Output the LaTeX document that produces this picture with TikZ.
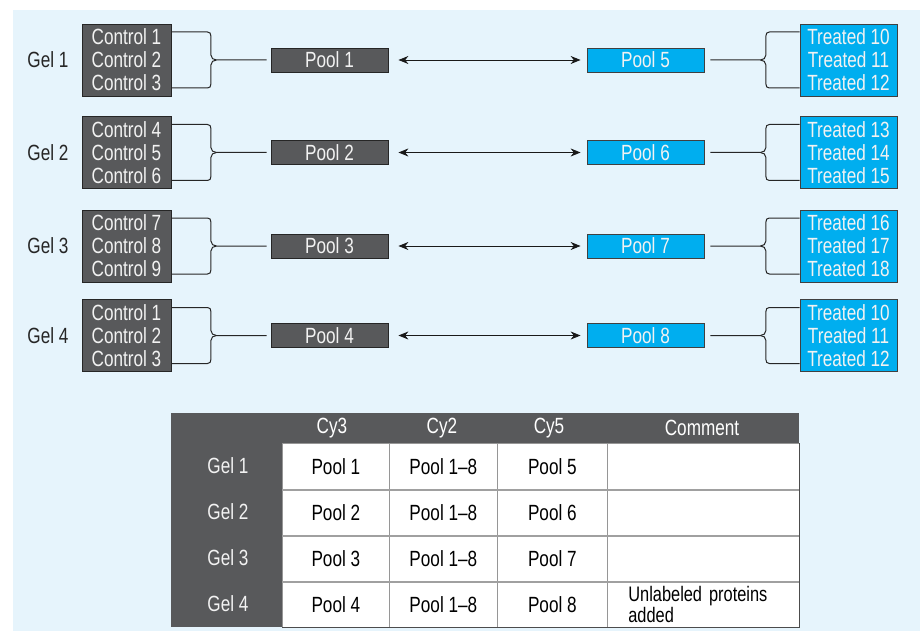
\documentclass[tikz,border=0pt]{standalone}
\usepackage{fontspec}
\setmainfont[FakeStretch=0.78]{Liberation Sans}
\usetikzlibrary{arrows.meta}
\definecolor{bgblue}{RGB}{230,244,252}
\definecolor{dgrey}{RGB}{88,89,91}
\definecolor{cyanbox}{RGB}{0,174,239}
\definecolor{lighttext}{RGB}{242,242,242}
\definecolor{gridgrey}{RGB}{150,150,150}
\begin{document}
\begin{tikzpicture}[x=1pt,y=-1pt,
  every node/.style={font=\fontsize{22}{23}\selectfont, inner sep=0pt},
  ctrlbox/.style={draw=black!85, line width=0.8pt, fill=dgrey, text=lighttext, minimum width=89pt, minimum height=72pt, align=center},
  treatbox/.style={draw=black!75, line width=0.8pt, fill=cyanbox, text=lighttext, minimum width=97pt, minimum height=72pt, align=center},
  poolL/.style={draw=black!85, line width=0.8pt, fill=dgrey, text=lighttext, minimum width=117pt, minimum height=24pt},
  poolR/.style={draw=black!75, line width=0.8pt, fill=cyanbox, text=lighttext, minimum width=117pt, minimum height=24pt},
  gellabel/.style={text=black!85},
  brace/.style={draw=black!85, line width=1pt},
  arr/.style={draw=black!90, line width=0.9pt, {Stealth[length=10pt,width=8pt]}-{Stealth[length=10pt,width=8pt]}},
  tabdark/.style={fill=dgrey, text=white},
  cell/.style={fill=white, draw=gridgrey, line width=0.7pt, minimum height=46pt, anchor=north west},
  hsep/.style={draw=gridgrey!90, line width=1.8pt},
]
\useasboundingbox (0,0) rectangle (920,631);
\fill[bgblue] (13,10) rectangle (920,631);

\foreach \i/\y/\a/\b/\c/\ta/\tb/\tc/\j in {1/60/1/2/3/10/11/12/5, 2/152.5/4/5/6/13/14/15/6, 3/246/7/8/9/16/17/18/7, 4/335.5/1/2/3/10/11/12/8}{
  \node[gellabel] (g\i) at (48,\y) {Gel \i};
  \node[ctrlbox] (c\i) at (126.5,\y) {Control \a\\Control \b\\Control \c};
  \node[poolL] (p\i) at (329.5,\y) {Pool \i};
  \node[poolR] (q\i) at (645.5,\y) {Pool \j};
  \node[treatbox] (t\i) at (848.5,\y) {Treated \ta\\Treated \tb\\Treated \tc};
  % left brace
  \draw[brace] ([yshift=28pt]c\i.east) -- ++(36,0)
     .. controls +(2.5,0) and +(0,-2.5) .. ++(3.5,4) -- ++(0,19)
     .. controls +(0,3) and +(-3,0) .. ++(5.5,5) coordinate (lt\i)
     -- ([xshift=-4pt]p\i.west);
  \draw[brace] ([yshift=-28pt]c\i.east) -- ++(36,0)
     .. controls +(2.5,0) and +(0,2.5) .. ++(3.5,-4) -- ++(0,-19)
     .. controls +(0,-3) and +(-3,0) .. (lt\i);
  % right brace
  \draw[brace] ([xshift=6pt]q\i.east) -- ++(50,0) coordinate (rt\i)
     .. controls +(3,0) and +(0,3) .. ++(5.5,-5) -- ++(0,-19)
     .. controls +(0,-2.5) and +(-2.5,0) .. ++(3.5,-4)
     -- ([yshift=28pt]t\i.west);
  \draw[brace] (rt\i)
     .. controls +(3,0) and +(0,-3) .. ++(5.5,5) -- ++(0,19)
     .. controls +(0,2.5) and +(-2.5,0) .. ++(3.5,4)
     -- ([yshift=-28pt]t\i.west);
  % arrow
  \draw[arr] ([xshift=10pt]p\i.east) -- ([xshift=-6pt]q\i.west);
}

% table
\node[tabdark, anchor=north west, minimum width=628pt, minimum height=214pt] (tab) at (171,413) {};
\node[text=white] (h1) at (332,428) {Cy3};
\node[text=white] (h2) at (442,428) {Cy2};
\node[text=white] (h3) at (549,428) {Cy5};
\node[text=white] (h4) at (702,428) {Comment};
\foreach \r/\y/\q in {1/443/5, 2/489/6, 3/535/7, 4/581/8}{
  \node[text=lighttext] (rl\r) at (228,\y+23) {Gel \r};
  \node[cell, minimum width=107pt] (a\r) at (282,\y) {Pool \r};
  \node[cell, minimum width=108pt] (b\r) at (389,\y) {Pool 1--8};
  \node[cell, minimum width=110pt] (d\r) at (497,\y) {Pool \q};
}
\node[cell, minimum width=192pt] (e1) at (607,443) {};
\node[cell, minimum width=192pt] (e2) at (607,489) {};
\node[cell, minimum width=192pt] (e3) at (607,535) {};
\node[cell, minimum width=192pt, text width=150pt, inner xsep=21pt, align=left, font=\fontsize{21}{17}\selectfont] (e4) at (607,581) {Unlabeled proteins\\added};
\draw[hsep] (a1.south west) -- (e1.south east);
\draw[hsep] (a2.south west) -- (e2.south east);
\draw[hsep] (a3.south west) -- (e3.south east);
\draw[draw=black!70, line width=0.8pt] (e1.north east) -- (e4.south east) -- (a4.south west);
\end{tikzpicture}
\end{document}
